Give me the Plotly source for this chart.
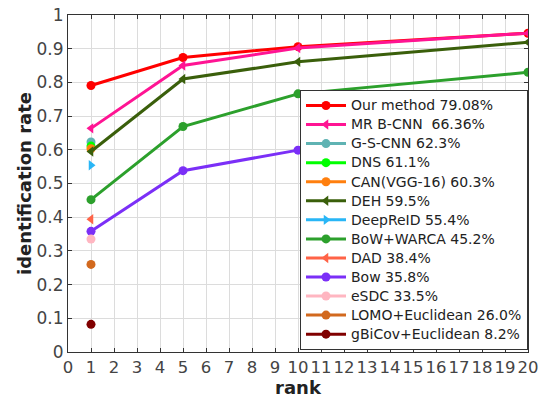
import plotly.graph_objects as go

ranks_full = [1, 5, 10, 20]
rank_one = [1]

names = ["Our method 79.08%", "MR B-CNN  66.36%", "G-S-CNN 62.3%", "DNS 61.1%",
         "CAN(VGG-16) 60.3%", "DEH 59.5%", "DeepReID 55.4%", "BoW+WARCA 45.2%",
         "DAD 38.4%", "Bow 35.8%", "eSDC 33.5%", "LOMO+Euclidean 26.0%",
         "gBiCov+Euclidean 8.2%"]

our_method = [0.7908, 0.874, 0.906, 0.946]
mr_bcnn = [0.6636, 0.850, 0.902, 0.946]
gs_cnn = [0.623]
dns = [0.611]
can_vgg = [0.603]
deh = [0.595, 0.810, 0.861, 0.919]
deepreid = [0.554]
bow_warca = [0.452, 0.669, 0.766, 0.830]
dad = [0.394]
bow = [0.358, 0.538, 0.599, 0.688]
esdc = [0.335]
lomo = [0.260]
gbicov = [0.082]

series = [our_method, mr_bcnn, gs_cnn, dns, can_vgg, deh, deepreid, bow_warca,
          dad, bow, esdc, lomo, gbicov]
colors = ["#ff0000", "#ff1493", "#5fb3b3", "#00ff00", "#ff7f0e", "#3a5f0b",
          "#29b6f6", "#2ca02c", "#ff6347", "#7b2ff7", "#ffb6c1", "#d2691e",
          "#800000"]
symbols = ["circle", "triangle-left", "circle", "circle", "circle", "triangle-left",
           "triangle-right", "circle", "triangle-left", "circle", "circle", "circle",
           "circle"]

fig = go.Figure()
for name, vals, c, s in zip(names, series, colors, symbols):
    xs = ranks_full if len(vals) == 4 else rank_one
    fig.add_trace(go.Scatter(
        x=xs, y=vals, name='<span style="font-size:14px">' + name + '</span>',
        mode="lines+markers",
        line=dict(color=c, width=3),
        marker=dict(color=c, size=9, symbol=s),
    ))

fig.update_layout(
    width=539, height=401,
    margin=dict(l=68, r=11, t=15, b=49, autoexpand=False),
    paper_bgcolor="white", plot_bgcolor="white",
    font=dict(family="DejaVu Sans", color="#333333"),
    showlegend=True,
    legend=dict(
        x=1, y=0.006, xanchor="right", yanchor="bottom",
        bgcolor="white", bordercolor="#333333", borderwidth=1,
        font=dict(size=12.35, color="#222222"),
        itemwidth=40, tracegroupgap=0,
    ),
)
fig.update_xaxes(
    range=[0, 20], tickmode="linear", tick0=0, dtick=1, automargin=False,
    tickangle=0, ticklabeloverflow="allow",
    showgrid=True, gridcolor="#dcdcdc", gridwidth=1,
    showline=True, linecolor="#333333", linewidth=1, mirror="ticks",
    ticks="inside", ticklen=4, tickcolor="#333333",
    tickfont=dict(size=16.5, color="#444444"),
    title=dict(text="<b>rank</b>", font=dict(size=18, color="#222222"), standoff=0),
    zeroline=False,
)
fig.update_yaxes(
    range=[0, 1], tickmode="linear", tick0=0, dtick=0.1, automargin=False,
    ticklabeloverflow="allow",
    showgrid=True, gridcolor="#dcdcdc", gridwidth=1,
    showline=True, linecolor="#333333", linewidth=1, mirror="ticks",
    ticks="inside", ticklen=4, tickcolor="#333333",
    tickfont=dict(size=17, color="#444444"),
    title=dict(text="<b>identification rate</b>", font=dict(size=18, color="#222222"), standoff=0),
    zeroline=False,
)

fig.write_html(
    "out.html",
    config={"displayModeBar": False},
    post_script="document.body.style.margin='0';document.body.style.overflow='hidden';",
)
